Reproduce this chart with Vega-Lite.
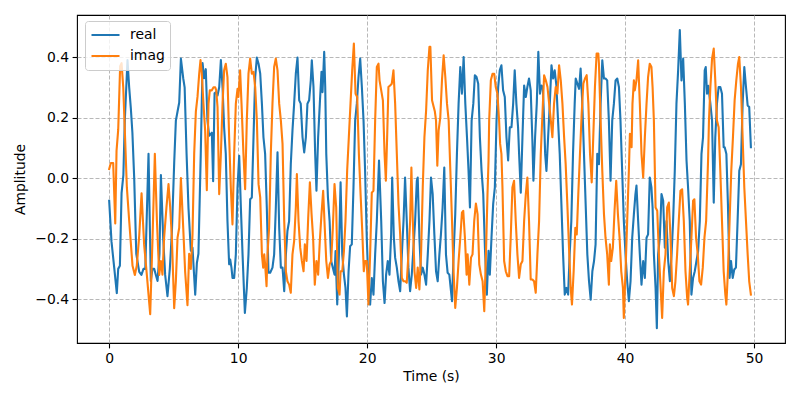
{
  "$schema": "https://vega.github.io/schema/vega-lite/v6.json",
  "width": 708,
  "height": 328,
  "autosize": {"type": "none"},
  "padding": {"left": 77, "top": 15, "right": 15, "bottom": 57},
  "background": "white",
  "config": {
    "font": "DejaVu Sans",
    "view": {"stroke": "black", "strokeWidth": 1.1},
    "axis": {
      "domain": false,
      "grid": true,
      "gridDash": [4, 2],
      "gridColor": "#b0b0b0",
      "gridWidth": 0.9,
      "tickColor": "black",
      "tickSize": 4.9,
      "tickWidth": 1.1,
      "labelFontSize": 13.9,
      "titleFontSize": 13.9,
      "titleFontWeight": "normal",
      "labelColor": "black",
      "titleColor": "black",
      "labelPadding": 3.5,
      "labelFont": "DejaVu Sans",
      "titleFont": "DejaVu Sans"
    },
    "legend": {
      "labelFont": "DejaVu Sans"
    }
  },
  "datasets": {
    "real": [
      {"t":0,"y":-0.075},{"t":0.18,"y":-0.21},{"t":0.4,"y":-0.3},{"t":0.59,"y":-0.38},{"t":0.7,"y":-0.3},{"t":0.83,"y":-0.29},{"t":0.96,"y":-0.05},{"t":1.1,"y":0.01},{"t":1.21,"y":0.19},{"t":1.42,"y":0.39},{"t":1.55,"y":0.3},{"t":1.68,"y":0.23},{"t":1.8,"y":0.15},{"t":1.94,"y":0.0},{"t":2.1,"y":-0.25},{"t":2.33,"y":-0.31},{"t":2.5,"y":-0.32},{"t":2.66,"y":-0.3},{"t":2.8,"y":-0.3},{"t":3.05,"y":0.08},{"t":3.23,"y":-0.34},{"t":3.35,"y":-0.3},{"t":3.49,"y":-0.3},{"t":3.62,"y":-0.32},{"t":3.75,"y":-0.34},{"t":3.9,"y":-0.25},
      {"t":4.01,"y":0.01},{"t":4.19,"y":-0.2},{"t":4.34,"y":-0.32},{"t":4.52,"y":-0.39},{"t":4.7,"y":-0.3},{"t":4.86,"y":-0.18},{"t":5.04,"y":0.05},{"t":5.17,"y":0.19},{"t":5.3,"y":0.22},{"t":5.43,"y":0.25},{"t":5.56,"y":0.395},{"t":5.74,"y":0.33},{"t":5.85,"y":0.3},{"t":6.0,"y":0.08},{"t":6.15,"y":-0.1},{"t":6.33,"y":-0.24},{"t":6.46,"y":-0.23},{"t":6.67,"y":-0.385},{"t":6.8,"y":-0.28},{"t":6.92,"y":-0.25},{"t":7.1,"y":0.08},{"t":7.24,"y":0.38},{"t":7.36,"y":0.33},{"t":7.49,"y":0.36},{"t":7.62,"y":0.19},{"t":7.75,"y":0.14},{"t":7.96,"y":0.15},{"t":8.06,"y":-0.01},
      {"t":8.17,"y":0.28},{"t":8.27,"y":0.284},{"t":8.4,"y":0.273},{"t":8.53,"y":0.3},{"t":8.66,"y":0.39},{"t":8.79,"y":0.3},{"t":8.91,"y":0.168},{"t":9.04,"y":0.08},{"t":9.17,"y":-0.142},{"t":9.3,"y":-0.285},{"t":9.38,"y":-0.269},{"t":9.48,"y":-0.296},{"t":9.56,"y":-0.33},{"t":9.69,"y":-0.33},{"t":9.82,"y":-0.252},{"t":9.95,"y":-0.031},{"t":10.08,"y":0.074},{"t":10.21,"y":-0.097},{"t":10.34,"y":-0.252},{"t":10.52,"y":-0.446},{"t":10.67,"y":-0.363},{"t":10.8,"y":-0.252},{"t":10.93,"y":-0.07},{"t":11.06,"y":-0.064},{"t":11.19,"y":0.135},{"t":11.32,"y":0.334},{"t":11.45,"y":0.398},{"t":11.58,"y":0.378},{"t":11.71,"y":0.345},{"t":11.84,"y":0.246},{"t":11.96,"y":0.135},{"t":12.09,"y":0.08},{"t":12.22,"y":-0.097},{"t":12.35,"y":-0.313},{"t":12.48,"y":-0.313},
      {"t":12.66,"y":-0.296},{"t":12.79,"y":-0.252},{"t":12.92,"y":-0.097},{"t":13.05,"y":0.085},{"t":13.18,"y":-0.164},{"t":13.31,"y":-0.296},{"t":13.44,"y":-0.296},{"t":13.57,"y":-0.374},{"t":13.7,"y":-0.252},{"t":13.82,"y":-0.175},{"t":13.95,"y":-0.142},{"t":14.08,"y":0.046},{"t":14.21,"y":0.157},{"t":14.34,"y":0.246},{"t":14.47,"y":0.345},{"t":14.6,"y":0.398},{"t":14.73,"y":0.257},{"t":14.85,"y":0.246},{"t":14.99,"y":0.135},{"t":15.12,"y":0.085},{"t":15.25,"y":0.135},{"t":15.37,"y":0.246},{"t":15.5,"y":0.257},{"t":15.63,"y":0.323},{"t":15.71,"y":0.389},{"t":15.84,"y":0.301},{"t":15.97,"y":0.08},{"t":16.07,"y":-0.042},{"t":16.2,"y":0.135},{"t":16.33,"y":0.246},{"t":16.46,"y":0.351},{"t":16.54,"y":0.284},{"t":16.67,"y":0.417},
      {"t":16.75,"y":0.3},{"t":16.83,"y":0.08},{"t":16.96,"y":-0.064},{"t":17.09,"y":-0.142},{"t":17.21,"y":-0.274},{"t":17.34,"y":-0.296},{"t":17.47,"y":-0.319},{"t":17.55,"y":-0.241},{"t":17.68,"y":-0.418},{"t":17.81,"y":-0.252},{"t":17.94,"y":-0.014},{"t":18.07,"y":-0.252},{"t":18.2,"y":-0.319},{"t":18.32,"y":-0.363},{"t":18.43,"y":-0.457},{"t":18.56,"y":-0.308},{"t":18.68,"y":-0.225},{"t":18.81,"y":-0.219},{"t":18.94,"y":-0.031},{"t":19.07,"y":0.19},{"t":19.2,"y":0.246},{"t":19.33,"y":0.334},{"t":19.46,"y":0.395},{"t":19.59,"y":0.301},{"t":19.72,"y":0.19},{"t":19.84,"y":0.024},{"t":19.97,"y":-0.197},{"t":20.1,"y":-0.352},{"t":20.23,"y":-0.418},{"t":20.36,"y":-0.33},{"t":20.49,"y":-0.385},{"t":20.62,"y":-0.252},{"t":20.75,"y":-0.142},{"t":20.92,"y":0.058},
      {"t":21.09,"y":-0.142},{"t":21.22,"y":-0.341},{"t":21.35,"y":-0.413},{"t":21.47,"y":-0.319},{"t":21.6,"y":-0.274},{"t":21.73,"y":-0.319},{"t":21.86,"y":-0.186},{"t":21.94,"y":0.002},{"t":22.07,"y":-0.197},{"t":22.17,"y":-0.263},{"t":22.3,"y":-0.296},{"t":22.43,"y":-0.341},{"t":22.56,"y":-0.374},{"t":22.69,"y":-0.252},{"t":22.82,"y":-0.142},{"t":22.94,"y":0.002},{"t":23.07,"y":-0.142},{"t":23.2,"y":-0.296},{"t":23.33,"y":-0.374},{"t":23.46,"y":-0.319},{"t":23.59,"y":-0.23},{"t":23.72,"y":-0.142},{"t":23.85,"y":-0.009},{"t":23.92,"y":0.002},{"t":24.05,"y":-0.197},{"t":24.18,"y":-0.319},{"t":24.31,"y":-0.296},{"t":24.44,"y":-0.319},{"t":24.57,"y":-0.352},{"t":24.7,"y":-0.252},{"t":24.83,"y":-0.142},{"t":24.95,"y":0.002},
      {"t":25.08,"y":-0.053},{"t":25.21,"y":-0.186},{"t":25.34,"y":-0.308},{"t":25.47,"y":-0.341},{"t":25.6,"y":-0.252},{"t":25.72,"y":-0.186},{"t":25.85,"y":-0.097},{"t":25.98,"y":0.035},{"t":26.11,"y":-0.252},{"t":26.24,"y":-0.313},{"t":26.37,"y":-0.319},{"t":26.5,"y":-0.374},{"t":26.58,"y":-0.407},{"t":26.7,"y":-0.252},{"t":26.83,"y":-0.119},{"t":26.96,"y":0.08},{"t":27.09,"y":0.246},{"t":27.22,"y":0.367},{"t":27.35,"y":0.279},{"t":27.48,"y":0.4},{"t":27.61,"y":0.246},{"t":27.74,"y":0.135},{"t":27.86,"y":0.024},{"t":27.97,"y":-0.097},{"t":28.1,"y":0.19},{"t":28.23,"y":0.246},{"t":28.35,"y":0.34},{"t":28.48,"y":0.334},{"t":28.61,"y":0.312},{"t":28.74,"y":0.135},{"t":28.87,"y":0.024},{"t":29.0,"y":-0.053},{"t":29.13,"y":-0.23},{"t":29.28,"y":-0.385},{"t":29.41,"y":-0.24},
      {"t":29.51,"y":-0.319},{"t":29.64,"y":-0.197},{"t":29.77,"y":-0.086},{"t":29.9,"y":-0.031},{"t":30.03,"y":0.19},{"t":30.16,"y":0.301},{"t":30.28,"y":0.356},{"t":30.41,"y":0.373},{"t":30.54,"y":0.29},{"t":30.67,"y":0.268},{"t":30.8,"y":0.135},{"t":30.93,"y":0.058},{"t":31.06,"y":0.168},{"t":31.19,"y":0.168},{"t":31.32,"y":0.246},{"t":31.44,"y":0.356},{"t":31.57,"y":0.246},{"t":31.7,"y":0.168},{"t":31.78,"y":0.08},{"t":31.91,"y":-0.048},{"t":32.04,"y":0.135},{"t":32.17,"y":0.306},{"t":32.3,"y":0.268},{"t":32.42,"y":0.301},{"t":32.55,"y":0.329},{"t":32.68,"y":0.29},{"t":32.81,"y":0.124},{"t":32.89,"y":-0.009},{"t":33.02,"y":0.135},{"t":33.15,"y":0.246},{"t":33.27,"y":0.417},{"t":33.4,"y":0.279},{"t":33.51,"y":0.306},{"t":33.62,"y":0.301},
      {"t":33.72,"y":0.19},{"t":33.8,"y":0.08},{"t":33.9,"y":0.024},{"t":34.03,"y":0.135},{"t":34.16,"y":0.246},{"t":34.29,"y":0.373},{"t":34.42,"y":0.329},{"t":34.54,"y":0.356},{"t":34.67,"y":0.306},{"t":34.8,"y":0.19},{"t":34.93,"y":0.08},{"t":35.06,"y":-0.086},{"t":35.19,"y":-0.252},{"t":35.32,"y":-0.385},{"t":35.45,"y":-0.363},{"t":35.58,"y":-0.385},{"t":35.7,"y":-0.252},{"t":35.83,"y":-0.142},{"t":35.96,"y":0.08},{"t":36.09,"y":0.246},{"t":36.17,"y":0.329},{"t":36.3,"y":0.312},{"t":36.43,"y":0.295},{"t":36.55,"y":0.362},{"t":36.68,"y":0.246},{"t":36.81,"y":0.08},{"t":36.94,"y":-0.086},{"t":37.07,"y":-0.252},{"t":37.2,"y":-0.341},{"t":37.33,"y":-0.402},{"t":37.46,"y":-0.308},{"t":37.59,"y":-0.274},{"t":37.71,"y":-0.219},{"t":37.84,"y":0.08},
      {"t":37.97,"y":0.046},{"t":38.1,"y":0.246},{"t":38.23,"y":0.389},{"t":38.36,"y":0.329},{"t":38.48,"y":0.329},{"t":38.61,"y":0.323},{"t":38.74,"y":0.19},{"t":38.87,"y":-0.009},{"t":39.0,"y":0.19},{"t":39.13,"y":0.246},{"t":39.26,"y":0.323},{"t":39.39,"y":0.329},{"t":39.52,"y":0.301},{"t":39.64,"y":0.19},{"t":39.77,"y":0.024},{"t":39.9,"y":-0.142},{"t":40.03,"y":-0.252},{"t":40.16,"y":-0.341},{"t":40.29,"y":-0.407},{"t":40.42,"y":-0.341},{"t":40.55,"y":-0.197},{"t":40.68,"y":-0.119},{"t":40.8,"y":-0.053},{"t":40.88,"y":-0.025},{"t":41.01,"y":-0.142},{"t":41.14,"y":-0.252},{"t":41.27,"y":-0.352},{"t":41.4,"y":-0.274},{"t":41.53,"y":-0.33},{"t":41.66,"y":-0.197},{"t":41.78,"y":-0.186},{"t":41.91,"y":0.002},{"t":42.04,"y":-0.031},{"t":42.13,"y":-0.097},
      {"t":42.23,"y":-0.252},{"t":42.36,"y":-0.363},{"t":42.46,"y":-0.496},{"t":42.56,"y":-0.252},{"t":42.69,"y":-0.197},{"t":42.82,"y":-0.053},{"t":42.95,"y":-0.075},{"t":43.08,"y":-0.23},{"t":43.21,"y":-0.142},{"t":43.34,"y":-0.274},{"t":43.47,"y":-0.341},{"t":43.6,"y":-0.252},{"t":43.72,"y":-0.142},{"t":43.85,"y":0.024},{"t":43.98,"y":0.246},{"t":44.11,"y":0.356},{"t":44.24,"y":0.489},{"t":44.37,"y":0.323},{"t":44.5,"y":0.395},{"t":44.63,"y":0.246},{"t":44.76,"y":0.058},{"t":44.88,"y":-0.031},{"t":45.01,"y":-0.142},{"t":45.14,"y":-0.385},{"t":45.27,"y":-0.33},{"t":45.4,"y":-0.308},{"t":45.53,"y":-0.274},{"t":45.66,"y":-0.241},{"t":45.79,"y":-0.142},{"t":45.92,"y":0.08},{"t":46.04,"y":0.135},{"t":46.17,"y":0.356},{"t":46.25,"y":0.367},{"t":46.35,"y":0.279},
      {"t":46.45,"y":0.305},{"t":46.61,"y":0.246},{"t":46.74,"y":0.19},{"t":46.87,"y":-0.081},{"t":46.99,"y":0.135},{"t":47.12,"y":0.246},{"t":47.25,"y":0.301},{"t":47.38,"y":0.301},{"t":47.51,"y":0.279},{"t":47.64,"y":0.102},{"t":47.72,"y":0.102},{"t":47.85,"y":0.08},{"t":47.97,"y":-0.086},{"t":48.1,"y":-0.33},{"t":48.21,"y":-0.274},{"t":48.34,"y":-0.33},{"t":48.46,"y":-0.302},{"t":48.59,"y":-0.296},{"t":48.72,"y":-0.142},{"t":48.85,"y":0.024},{"t":48.98,"y":0.046},{"t":49.11,"y":0.246},{"t":49.24,"y":0.367},{"t":49.37,"y":0.301},{"t":49.5,"y":0.24},{"t":49.62,"y":0.235},{"t":49.75,"y":0.102}
    ],
    "imag": [
      {"t":0,"y":0.03},{"t":0.13,"y":0.05},{"t":0.31,"y":0.05},{"t":0.47,"y":-0.15},{"t":0.57,"y":0.09},{"t":0.7,"y":0.16},{"t":0.85,"y":0.37},{"t":0.96,"y":0.38},{"t":1.09,"y":0.3},{"t":1.21,"y":0.16},{"t":1.37,"y":-0.03},{"t":1.55,"y":-0.14},{"t":1.81,"y":-0.29},{"t":1.99,"y":-0.32},{"t":2.14,"y":-0.29},{"t":2.33,"y":-0.19},{"t":2.51,"y":-0.05},{"t":2.71,"y":-0.22},{"t":2.92,"y":-0.32},{"t":3.18,"y":-0.45},{"t":3.36,"y":-0.2},{"t":3.54,"y":0.08},{"t":3.7,"y":-0.14},{"t":3.88,"y":-0.32},
      {"t":4.01,"y":-0.274},{"t":4.13,"y":-0.319},{"t":4.26,"y":-0.197},{"t":4.44,"y":-0.097},{"t":4.6,"y":-0.02},{"t":4.73,"y":-0.097},{"t":4.86,"y":-0.197},{"t":5.04,"y":-0.43},{"t":5.17,"y":-0.34},{"t":5.3,"y":-0.197},{"t":5.43,"y":-0.164},{"t":5.56,"y":0.0},{"t":5.74,"y":-0.164},{"t":5.89,"y":-0.31},{"t":6.07,"y":-0.42},{"t":6.2,"y":-0.25},{"t":6.33,"y":-0.3},{"t":6.46,"y":-0.186},{"t":6.59,"y":0.08},{"t":6.72,"y":0.22},{"t":6.85,"y":0.27},{"t":6.98,"y":0.345},{"t":7.08,"y":0.39},{"t":7.18,"y":0.345},{"t":7.31,"y":0.245},{"t":7.44,"y":0.157},{"t":7.57,"y":-0.04},{"t":7.7,"y":0.245},{"t":7.8,"y":0.29},{"t":7.96,"y":0.29},{"t":8.09,"y":0.3},{"t":8.22,"y":0.3},
      {"t":8.3,"y":0.29},{"t":8.4,"y":0.235},{"t":8.53,"y":-0.053},{"t":8.66,"y":0.08},{"t":8.79,"y":0.246},{"t":8.91,"y":0.356},{"t":9.04,"y":0.378},{"t":9.17,"y":0.334},{"t":9.3,"y":0.135},{"t":9.43,"y":-0.031},{"t":9.56,"y":-0.153},{"t":9.69,"y":0.08},{"t":9.82,"y":0.246},{"t":9.95,"y":0.295},{"t":10.02,"y":0.268},{"t":10.15,"y":0.356},{"t":10.26,"y":0.246},{"t":10.41,"y":0.08},{"t":10.54,"y":-0.037},{"t":10.67,"y":0.19},{"t":10.8,"y":0.345},{"t":10.93,"y":0.395},{"t":11.06,"y":0.345},{"t":11.19,"y":0.351},{"t":11.32,"y":0.301},{"t":11.45,"y":0.19},{"t":11.58,"y":-0.02},{"t":11.71,"y":-0.064},{"t":11.84,"y":-0.252},{"t":11.94,"y":-0.296},{"t":12.02,"y":-0.252},{"t":12.09,"y":-0.285},{"t":12.2,"y":-0.357},{"t":12.27,"y":-0.252},{"t":12.4,"y":-0.164},{"t":12.47,"y":-0.04},
      {"t":12.53,"y":0.08},{"t":12.66,"y":0.246},{"t":12.79,"y":0.367},{"t":12.92,"y":0.395},{"t":13.05,"y":0.356},{"t":13.18,"y":0.246},{"t":13.31,"y":0.19},{"t":13.44,"y":0.113},{"t":13.57,"y":-0.142},{"t":13.7,"y":-0.308},{"t":13.82,"y":-0.341},{"t":13.95,"y":-0.352},{"t":14.08,"y":-0.379},{"t":14.21,"y":-0.252},{"t":14.34,"y":-0.208},{"t":14.47,"y":-0.097},{"t":14.55,"y":0.013},{"t":14.68,"y":-0.142},{"t":14.81,"y":-0.23},{"t":14.94,"y":-0.274},{"t":15.07,"y":-0.308},{"t":15.17,"y":-0.219},{"t":15.3,"y":-0.274},{"t":15.43,"y":-0.131},{"t":15.56,"y":-0.014},{"t":15.69,"y":-0.119},{"t":15.81,"y":-0.197},{"t":15.94,"y":-0.352},{"t":16.07,"y":-0.274},{"t":16.2,"y":-0.319},{"t":16.33,"y":-0.208},{"t":16.46,"y":-0.119},{"t":16.59,"y":-0.042},{"t":16.69,"y":-0.142},
      {"t":16.83,"y":-0.274},{"t":16.96,"y":-0.33},{"t":17.09,"y":-0.285},{"t":17.21,"y":-0.274},{"t":17.34,"y":-0.164},{"t":17.47,"y":-0.02},{"t":17.6,"y":-0.097},{"t":17.73,"y":-0.363},{"t":17.86,"y":-0.385},{"t":17.94,"y":-0.308},{"t":18.07,"y":-0.308},{"t":18.2,"y":-0.241},{"t":18.32,"y":-0.142},{"t":18.45,"y":0.024},{"t":18.58,"y":0.135},{"t":18.71,"y":0.246},{"t":18.84,"y":0.356},{"t":18.97,"y":0.445},{"t":19.1,"y":0.279},{"t":19.23,"y":0.268},{"t":19.36,"y":0.08},{"t":19.49,"y":-0.053},{"t":19.62,"y":-0.175},{"t":19.74,"y":-0.308},{"t":19.84,"y":-0.274},{"t":19.97,"y":-0.274},{"t":20.1,"y":-0.418},{"t":20.23,"y":-0.252},{"t":20.36,"y":-0.048},{"t":20.49,"y":-0.042},{"t":20.62,"y":0.19},{"t":20.75,"y":0.367},{"t":20.88,"y":0.378},
      {"t":20.96,"y":0.323},{"t":21.09,"y":0.29},{"t":21.22,"y":0.257},{"t":21.35,"y":0.08},{"t":21.45,"y":-0.009},{"t":21.55,"y":0.135},{"t":21.65,"y":0.301},{"t":21.78,"y":0.306},{"t":21.91,"y":0.312},{"t":22.04,"y":0.356},{"t":22.17,"y":0.246},{"t":22.3,"y":0.08},{"t":22.43,"y":-0.086},{"t":22.56,"y":-0.186},{"t":22.69,"y":-0.33},{"t":22.82,"y":-0.341},{"t":22.94,"y":-0.341},{"t":23.07,"y":-0.346},{"t":23.2,"y":-0.252},{"t":23.33,"y":-0.142},{"t":23.43,"y":0.035},{"t":23.54,"y":-0.142},{"t":23.67,"y":-0.308},{"t":23.8,"y":-0.363},{"t":23.92,"y":-0.296},{"t":24.05,"y":-0.368},{"t":24.18,"y":-0.252},{"t":24.31,"y":-0.031},{"t":24.44,"y":0.135},{"t":24.57,"y":0.223},{"t":24.7,"y":0.356},{"t":24.83,"y":0.434},{"t":24.9,"y":0.434},{"t":25.03,"y":0.257},{"t":25.16,"y":0.235},
      {"t":25.25,"y":0.22},{"t":25.34,"y":0.19},{"t":25.44,"y":0.041},{"t":25.54,"y":0.157},{"t":25.67,"y":0.201},{"t":25.8,"y":0.323},{"t":25.93,"y":0.406},{"t":26.06,"y":0.334},{"t":26.19,"y":0.246},{"t":26.32,"y":0.19},{"t":26.45,"y":0.024},{"t":26.58,"y":-0.142},{"t":26.7,"y":-0.308},{"t":26.83,"y":-0.429},{"t":26.96,"y":-0.363},{"t":27.09,"y":-0.274},{"t":27.22,"y":-0.197},{"t":27.35,"y":-0.114},{"t":27.45,"y":-0.108},{"t":27.58,"y":-0.197},{"t":27.71,"y":-0.319},{"t":27.79,"y":-0.252},{"t":27.92,"y":-0.352},{"t":28.05,"y":-0.263},{"t":28.17,"y":-0.252},{"t":28.3,"y":-0.142},{"t":28.43,"y":-0.084},{"t":28.56,"y":-0.119},{"t":28.69,"y":-0.285},{"t":28.82,"y":-0.319},{"t":28.95,"y":-0.341},{"t":29.08,"y":-0.44},{"t":29.21,"y":-0.252},{"t":29.33,"y":-0.053},{"t":29.41,"y":0.058},
      {"t":29.46,"y":0.19},{"t":29.59,"y":0.323},{"t":29.72,"y":0.345},{"t":29.85,"y":0.345},{"t":29.97,"y":0.301},{"t":30.1,"y":0.279},{"t":30.23,"y":0.19},{"t":30.31,"y":0.113},{"t":30.41,"y":0.08},{"t":30.49,"y":-0.031},{"t":30.62,"y":-0.274},{"t":30.75,"y":-0.308},{"t":30.88,"y":-0.324},{"t":31.01,"y":-0.324},{"t":31.13,"y":-0.197},{"t":31.26,"y":-0.031},{"t":31.39,"y":-0.009},{"t":31.52,"y":-0.142},{"t":31.65,"y":-0.252},{"t":31.78,"y":-0.33},{"t":31.91,"y":-0.285},{"t":32.04,"y":-0.274},{"t":32.17,"y":-0.142},{"t":32.3,"y":-0.053},{"t":32.42,"y":0.002},{"t":32.55,"y":-0.142},{"t":32.68,"y":-0.335},{"t":32.81,"y":-0.335},{"t":32.94,"y":-0.341},{"t":33.07,"y":-0.379},{"t":33.2,"y":-0.252},{"t":33.33,"y":-0.142},{"t":33.46,"y":0.08},{"t":33.58,"y":0.201},
      {"t":33.72,"y":0.34},{"t":33.85,"y":0.323},{"t":33.98,"y":0.301},{"t":34.11,"y":0.246},{"t":34.24,"y":0.19},{"t":34.36,"y":0.135},{"t":34.49,"y":0.246},{"t":34.62,"y":0.301},{"t":34.75,"y":0.279},{"t":34.88,"y":0.373},{"t":35.01,"y":0.323},{"t":35.14,"y":0.246},{"t":35.27,"y":0.135},{"t":35.39,"y":0.046},{"t":35.52,"y":-0.086},{"t":35.65,"y":-0.23},{"t":35.78,"y":-0.363},{"t":35.88,"y":-0.418},{"t":36.01,"y":-0.308},{"t":36.14,"y":-0.164},{"t":36.25,"y":-0.186},{"t":36.37,"y":-0.053},{"t":36.5,"y":0.08},{"t":36.63,"y":0.212},{"t":36.76,"y":0.312},{"t":36.89,"y":0.329},{"t":37.02,"y":0.34},{"t":37.15,"y":0.246},{"t":37.28,"y":0.08},{"t":37.41,"y":-0.014},{"t":37.53,"y":0.135},{"t":37.66,"y":0.301},{"t":37.79,"y":0.412},{"t":37.92,"y":0.412},
      {"t":37.97,"y":0.378},{"t":38.1,"y":0.19},{"t":38.23,"y":0.024},{"t":38.36,"y":-0.119},{"t":38.48,"y":-0.197},{"t":38.61,"y":-0.252},{"t":38.74,"y":-0.352},{"t":38.82,"y":-0.219},{"t":38.92,"y":-0.274},{"t":39.05,"y":-0.23},{"t":39.18,"y":-0.108},{"t":39.31,"y":-0.009},{"t":39.44,"y":-0.119},{"t":39.57,"y":-0.197},{"t":39.7,"y":-0.308},{"t":39.83,"y":-0.363},{"t":39.9,"y":-0.462},{"t":40.03,"y":-0.308},{"t":40.16,"y":-0.142},{"t":40.29,"y":0.024},{"t":40.37,"y":0.146},{"t":40.5,"y":0.102},{"t":40.57,"y":0.246},{"t":40.68,"y":0.323},{"t":40.75,"y":0.29},{"t":40.88,"y":0.323},{"t":41.01,"y":0.389},{"t":41.14,"y":0.246},{"t":41.27,"y":0.08},{"t":41.4,"y":0.002},{"t":41.53,"y":0.135},{"t":41.66,"y":0.246},{"t":41.78,"y":0.334},{"t":41.91,"y":0.378},{"t":42.04,"y":0.367},{"t":42.13,"y":0.3},
      {"t":42.23,"y":0.19},{"t":42.36,"y":-0.097},{"t":42.49,"y":-0.108},{"t":42.62,"y":-0.252},{"t":42.74,"y":-0.352},{"t":42.87,"y":-0.462},{"t":43.0,"y":-0.308},{"t":43.13,"y":-0.252},{"t":43.26,"y":-0.097},{"t":43.39,"y":-0.081},{"t":43.52,"y":-0.197},{"t":43.65,"y":-0.363},{"t":43.78,"y":-0.39},{"t":43.9,"y":-0.341},{"t":44.03,"y":-0.252},{"t":44.16,"y":-0.142},{"t":44.29,"y":-0.042},{"t":44.42,"y":-0.037},{"t":44.55,"y":-0.142},{"t":44.68,"y":-0.308},{"t":44.81,"y":-0.396},{"t":44.88,"y":-0.418},{"t":45.01,"y":-0.308},{"t":45.14,"y":-0.197},{"t":45.27,"y":-0.075},{"t":45.37,"y":-0.07},{"t":45.5,"y":-0.197},{"t":45.63,"y":-0.252},{"t":45.76,"y":-0.341},{"t":45.89,"y":-0.352},{"t":46.02,"y":-0.296},{"t":46.15,"y":-0.197},{"t":46.28,"y":-0.142},{"t":46.43,"y":0.058},
      {"t":46.5,"y":0.19},{"t":46.61,"y":0.301},{"t":46.74,"y":0.395},{"t":46.87,"y":0.428},{"t":46.99,"y":0.323},{"t":47.12,"y":0.19},{"t":47.25,"y":0.168},{"t":47.38,"y":0.024},{"t":47.51,"y":-0.142},{"t":47.64,"y":-0.308},{"t":47.77,"y":-0.385},{"t":47.85,"y":-0.418},{"t":47.97,"y":-0.308},{"t":48.1,"y":-0.142},{"t":48.23,"y":0.024},{"t":48.36,"y":0.135},{"t":48.49,"y":0.257},{"t":48.62,"y":0.323},{"t":48.75,"y":0.378},{"t":48.85,"y":0.4},{"t":48.98,"y":0.301},{"t":49.11,"y":0.135},{"t":49.24,"y":-0.031},{"t":49.37,"y":-0.142},{"t":49.5,"y":-0.252},{"t":49.62,"y":-0.341},{"t":49.75,"y":-0.385}
    ]
  },
  "encoding": {
    "x": {
      "field": "t",
      "type": "quantitative",
      "scale": {"domain": [-2.495, 52.395], "nice": false, "zero": false},
      "axis": {"title": "Time (s)", "values": [0, 10, 20, 30, 40, 50], "format": "d", "titlePadding": 4}
    },
    "y": {
      "field": "y",
      "type": "quantitative",
      "scale": {"domain": [-0.545, 0.539], "nice": false, "zero": false},
      "axis": {"title": "Amplitude", "values": [-0.4, -0.2, 0, 0.2, 0.4], "format": ".1f", "titlePadding": 7}
    }
  },
  "layer": [
    {
      "data": {"name": "real"},
      "mark": {"type": "line", "strokeWidth": 2.1, "clip": true, "strokeJoin": "round", "strokeCap": "square"},
      "encoding": {
        "color": {
          "datum": "real",
          "type": "nominal",
          "scale": {"domain": ["real", "imag"], "range": ["#1f77b4", "#ff7f0e"]},
          "legend": {
            "title": null,
            "orient": "none",
            "legendX": 8,
            "legendY": 6,
            "symbolType": "stroke",
            "symbolSize": 784,
            "symbolStrokeWidth": 2.1,
            "clipHeight": 18,
            "labelFontSize": 13.9,
            "labelColor": "black",
            "labelOffset": 9,
            "padding": 5,
            "rowPadding": 3,
            "strokeColor": "#cccccc",
            "fillColor": "rgba(255,255,255,0.8)",
            "cornerRadius": 3
          }
        }
      }
    },
    {
      "data": {"name": "imag"},
      "mark": {"type": "line", "strokeWidth": 2.1, "clip": true, "strokeJoin": "round", "strokeCap": "square"},
      "encoding": {
        "color": {"datum": "imag", "type": "nominal"}
      }
    }
  ]
}
